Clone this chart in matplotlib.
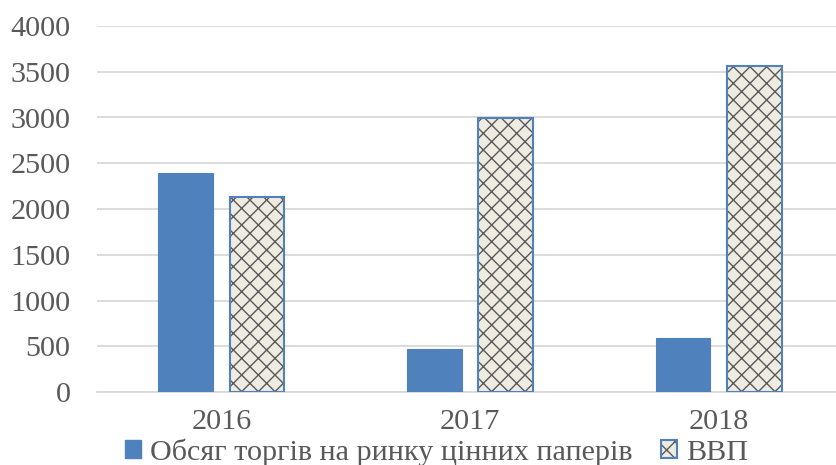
import numpy as np
import matplotlib
matplotlib.use("Agg")
import matplotlib.pyplot as plt
from matplotlib.patches import Patch

# Дані з графіка
years = ["2016", "2017", "2018"]
trade_volume = [2390, 470, 590]   # Обсяг торгів на ринку цінних паперів
gdp = [2135, 2990, 3565]          # ВВП
series_names = ["Обсяг торгів на ринку цінних паперів", "ВВП"]
y_ticks = [0, 500, 1000, 1500, 2000, 2500, 3000, 3500, 4000]

blue = "#4F81BD"
cream = "#EEECE1"
hatch_gray = "#595959"
text_gray = "#595959"
grid_gray = "#D9D9D9"

plt.rcParams["font.family"] = ["Liberation Serif", "DejaVu Serif"]
plt.rcParams["hatch.linewidth"] = 1.0

fig = plt.figure(figsize=(8.36, 4.65), dpi=100)
ax = fig.add_axes([97 / 836, 73 / 465, 746 / 836, 366 / 465])

x = np.arange(len(years))
w = 0.22
off = 0.144

ax.bar(x - off, trade_volume, w, color=blue, edgecolor=blue, linewidth=0.8, zorder=3)
# заштриховані стовпці: спочатку штрихування, потім синя рамка
ax.bar(x + off, gdp, w, color=cream, edgecolor=hatch_gray, hatch="xx", linewidth=0, zorder=3)
ax.bar(x + off, gdp, w, fill=False, edgecolor=blue, linewidth=1.5, zorder=4)

ax.set_xlim(-0.5, 2.5)
ax.set_ylim(0, 4000)
ax.set_yticks(y_ticks)
ax.set_xticks(x)
ax.set_xticklabels(years)
ax.tick_params(axis="both", length=0, labelsize=21.7, colors=text_gray)
ax.tick_params(axis="y", pad=19)
ax.tick_params(axis="x", pad=12)

ax.grid(axis="y", color=grid_gray, linewidth=1.3, zorder=0)
for s in ["top", "right", "left"]:
    ax.spines[s].set_visible(False)
ax.spines["bottom"].set_color(grid_gray)
ax.spines["bottom"].set_linewidth(1.3)
ax.set_axisbelow(True)

h1 = Patch(facecolor=blue, edgecolor=blue)
h2a = Patch(facecolor=cream, edgecolor=hatch_gray, hatch="xx", linewidth=0)
h2b = Patch(fill=False, edgecolor=blue, linewidth=1.5)
fig.legend([h1, (h2a, h2b)], series_names, loc="center",
           bbox_to_anchor=(0.522, 0.028), ncol=2, frameon=False,
           fontsize=21.7, labelcolor=text_gray, handlelength=0.55,
           handleheight=0.55, handletextpad=0.3, columnspacing=0.93,
           borderaxespad=0, borderpad=0)

fig.savefig("out.png", dpi=100)
